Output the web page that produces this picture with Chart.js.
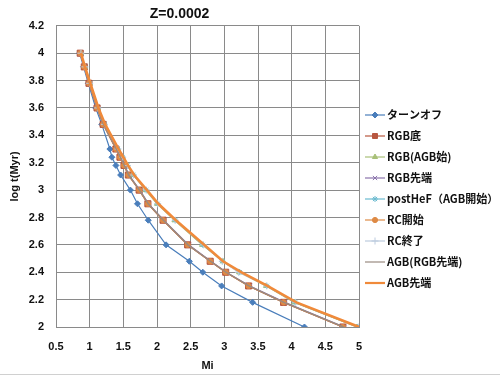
<!DOCTYPE html>
<html>
<head>
<meta charset="utf-8">
<script src="https://cdn.jsdelivr.net/npm/chart.js@4/dist/chart.umd.min.js"></script>
<style>
    html, body { margin: 0; padding: 0; background: #fff; }
    #wrap { position: relative; width: 500px; height: 377px; }
</style>
</head>
<body>
<div id="wrap"><canvas id="isoChart" width="500" height="377"></canvas></div>
<script>
// log t (Myr) shared by every series
const logT = [4.0, 3.9, 3.78, 3.6, 3.48, 3.3, 3.24, 3.18, 3.11, 3.0, 2.9, 2.78, 2.6, 2.48, 2.4, 2.3, 2.18, 2.0];

// Mi for each series
const turnOff     = [0.85, 0.91, 0.98, 1.09, 1.18, 1.30, 1.33, 1.39, 1.46, 1.605, 1.71, 1.87, 2.135, 2.48, 2.68, 2.96, 3.42, 4.19];
const rgbBottom   = [0.86, 0.92, 0.99, 1.11, 1.20, 1.39, 1.45, 1.51, 1.575, 1.735, 1.865, 2.09, 2.455, 2.79, 3.02, 3.36, 3.88, 4.76];
const rgbAgbStart = [0.87, 0.93, 1.00, 1.12, 1.22, 1.42, 1.49, 1.56, 1.65, 1.83, 2.00, 2.26, 2.67, 2.98, 3.22, 3.62, 4.04, 4.97];
const rgbTip      = [0.86, 0.92, 0.99, 1.11, 1.21, 1.40, 1.46, 1.52, 1.585, 1.745, 1.875, 2.10, 2.47, 2.80, 3.03, 3.38, 3.90, 4.78];
const postHeF     = [0.87, 0.93, 1.00, 1.12, 1.22, 1.42, 1.49, 1.56, 1.65, 1.84, 2.01, 2.27, 2.68, 2.97, 3.23, 3.63, 4.05, 4.98];
const rcStart     = [0.86, 0.92, 0.99, 1.11, 1.20, 1.39, 1.45, 1.51, 1.575, 1.735, 1.865, 2.09, 2.455, 2.79, 3.02, 3.36, 3.88, 4.76];
const rcEnd       = [0.87, 0.93, 1.00, 1.12, 1.22, 1.42, 1.49, 1.56, 1.65, 1.84, 2.01, 2.27, 2.69, 2.97, 3.21, 3.63, 4.06, 4.99];
const agbRgbTip   = [0.865, 0.925, 0.995, 1.115, 1.205, 1.395, 1.455, 1.515, 1.58, 1.74, 1.87, 2.095, 2.46, 2.795, 3.025, 3.365, 3.885, 4.77];
const agbTip      = [0.87, 0.93, 1.01, 1.13, 1.23, 1.43, 1.50, 1.57, 1.66, 1.85, 2.02, 2.28, 2.70, 2.98, 3.25, 3.64, 4.07, 5.0];

const seriesNames = ['ターンオフ', 'RGB底', 'RGB(AGB始)', 'RGB先端', 'postHeF（AGB開始）', 'RC開始', 'RC終了', 'AGB(RGB先端)', 'AGB先端'];
const xTicks = [0.5, 1, 1.5, 2, 2.5, 3, 3.5, 4, 4.5, 5];
const yTicks = [2, 2.2, 2.4, 2.6, 2.8, 3, 3.2, 3.4, 3.6, 3.8, 4, 4.2];

const toPoints = masses => masses.map((m, i) => ({ x: m, y: logT[i] }));

const styles = [
    { data: turnOff,     color: '#4A7EBB', point: 'rectRot',  radius: 3,   width: 1.2 },
    { data: rgbBottom,   color: '#B8573F', point: 'rect',     radius: 4.3, width: 1.2 },
    { data: rgbAgbStart, color: '#A8C078', point: 'triangle', radius: 3,   width: 1.2 },
    { data: rgbTip,      color: '#8B74AC', point: 'crossRot', radius: 3,   width: 1.2 },
    { data: postHeF,     color: '#6CBBD0', point: 'star',     radius: 3,   width: 1.2 },
    { data: rcStart,     color: '#DE8A45', point: 'circle',   radius: 2.6, width: 1.2 },
    { data: rcEnd,       color: '#BCCBDE', point: 'cross',    radius: 3.5, width: 1.2 },
    { data: agbRgbTip,   color: '#9A8A80', point: false,      radius: 0,   width: 1.4 },
    { data: agbTip,      color: '#F08A3A', point: false,      radius: 0,   width: 2.6 }
];

const datasets = styles.map((s, i) => ({
    label: seriesNames[i],
    data: toPoints(s.data),
    showLine: true,
    borderColor: s.color,
    backgroundColor: s.color,
    borderWidth: s.width,
    pointStyle: s.point,
    pointRadius: s.radius,
    pointBorderWidth: 1,
    pointBorderColor: s.color,
    pointBackgroundColor: s.color,
    order: styles.length - i   // later series drawn on top, like Excel
}));

// legend drawn at the right, line + marker + label
const sideLegend = {
    id: 'sideLegend',
    afterDraw(chart) {
        const ctx = chart.ctx;
        ctx.save();
        styles.forEach((s, i) => {
            const y = 115 + i * 21;
            ctx.strokeStyle = s.color;
            ctx.fillStyle = s.color;
            ctx.lineWidth = s.width > 2 ? 2.2 : 1.2;
            ctx.beginPath();
            ctx.moveTo(365, y);
            ctx.lineTo(385, y);
            ctx.stroke();
            if (s.point) {
                ctx.lineWidth = 1;
                Chart.helpers.drawPoint(ctx, {
                    pointStyle: s.point,
                    radius: Math.min(s.radius, 3.5),
                    borderWidth: 1,
                    rotation: 0
                }, 375, y);
            }
            ctx.fillStyle = '#111';
            ctx.font = 'bold 11px "Noto Sans CJK JP", sans-serif';
            ctx.textBaseline = 'middle';
            ctx.textAlign = 'left';
            ctx.fillText(seriesNames[i], 387, y);
        });
        ctx.strokeStyle = '#d0d0d0';
        ctx.lineWidth = 1;
        ctx.beginPath();
        ctx.moveTo(0, 374.5);
        ctx.lineTo(500, 374.5);
        ctx.stroke();
        ctx.restore();
    }
};

const tickFont = { family: 'Liberation Sans, sans-serif', size: 11, weight: 'bold' };

new Chart(document.getElementById('isoChart').getContext('2d'), {
    type: 'scatter',
    data: { datasets: datasets },
    options: {
        responsive: false,
        animation: false,
        layout: { padding: { left: 0, right: 141, top: 0, bottom: 0 } },
        plugins: {
            legend: { display: false },
            tooltip: { enabled: false },
            title: {
                display: true,
                text: 'Z=0.0002',
                color: '#111',
                font: { family: 'Liberation Sans, sans-serif', size: 14, weight: 'bold' },
                padding: { top: 6, bottom: 3 }
            }
        },
        scales: {
            x: {
                type: 'linear',
                min: 0.5,
                max: 5,
                afterBuildTicks: scale => { scale.ticks = xTicks.map(v => ({ value: v })); },
                afterFit: scale => { scale.height = 50; },
                grid: { color: '#8a8a8a', drawTicks: false },
                border: { color: '#8a8a8a' },
                ticks: { color: '#111', font: tickFont, padding: 13, callback: v => String(v) },
                title: { display: true, text: 'Mi', color: '#111', font: tickFont, padding: { top: 1 } }
            },
            y: {
                type: 'linear',
                min: 2,
                max: 4.2,
                afterBuildTicks: scale => { scale.ticks = yTicks.map(v => ({ value: v })); },
                afterFit: scale => { scale.width = 56; },
                grid: { color: '#8a8a8a', drawTicks: false },
                border: { color: '#8a8a8a' },
                ticks: { color: '#111', font: tickFont, padding: 12, callback: v => String(v) },
                title: { display: true, text: 'log t(Myr)', color: '#111', font: tickFont, padding: { top: 8, bottom: 0 } }
            }
        }
    },
    plugins: [sideLegend]
});
</script>
</body>
</html>
